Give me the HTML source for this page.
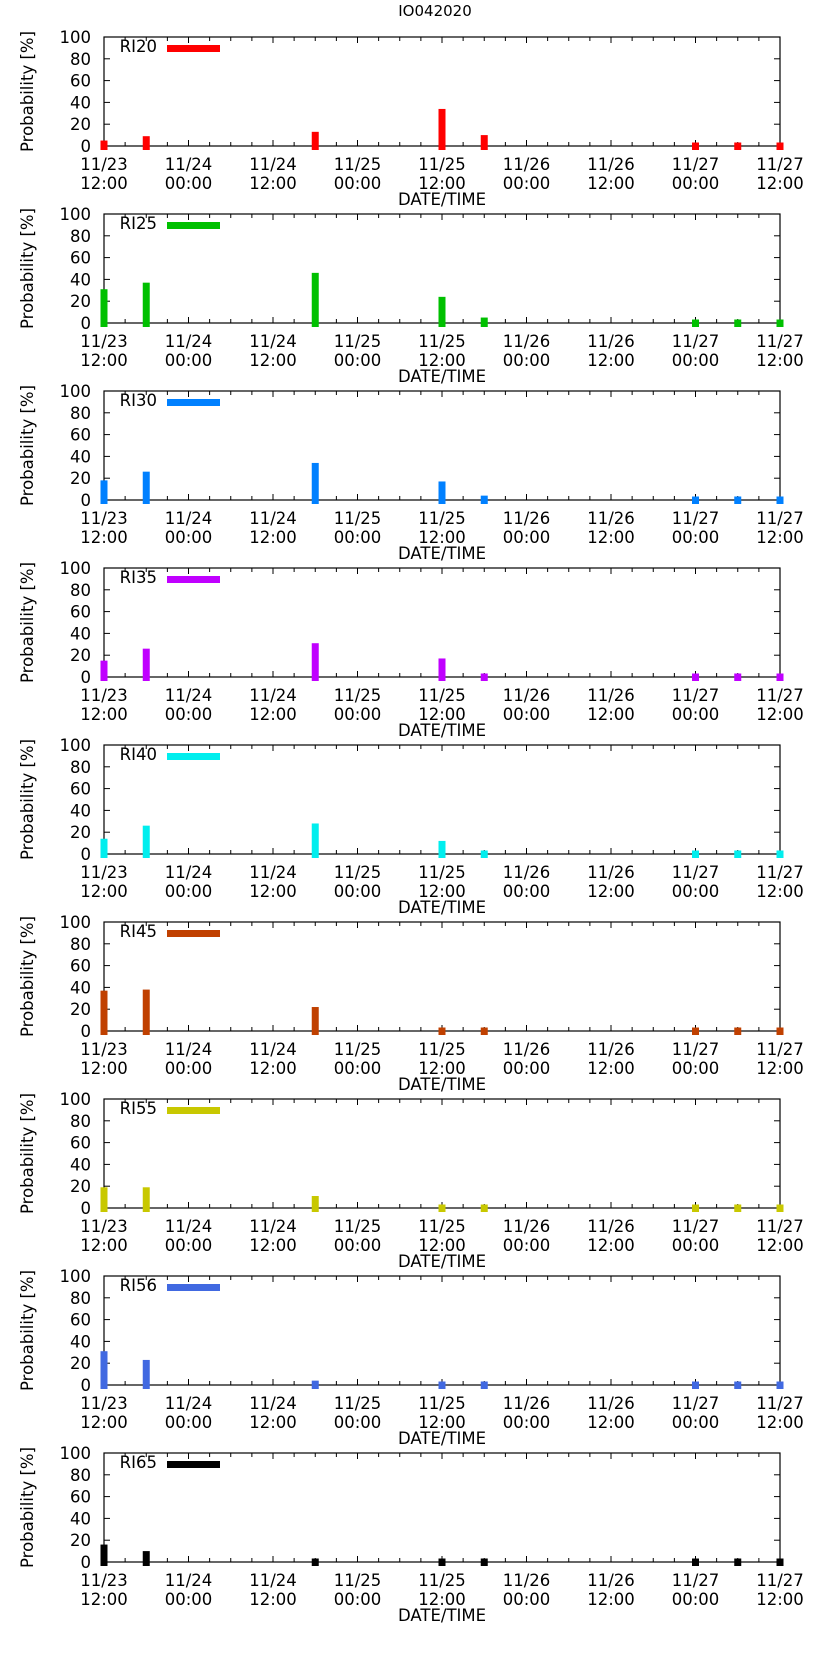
<!DOCTYPE html>
<html><head><meta charset="utf-8"><style>
body{margin:0;background:#fff;}
svg{display:block;font-family:"DejaVu Sans","Liberation Sans",sans-serif;}
</style></head><body>
<svg id="chart" width="823" height="1653" xmlns="http://www.w3.org/2000/svg">
<text x="435" y="16" font-size="15" text-anchor="middle">IO042020</text>
</svg>
<script>
const seriesNames = ["RI20","RI25","RI30","RI35","RI40","RI45","RI55","RI56","RI65"];
const seriesColors = ["#ff0000","#00c000","#0080ff","#c000ff","#00eeee","#c04000","#c8c800","#4169e1","#000000"];
const barHours = [0,6,30,48,54,84,90,96];
const ri20 = [5,9,13,34,10,0,0,0];
const ri25 = [31,37,46,24,5,0,0,0];
const ri30 = [18,26,34,17,4,0,0,0];
const ri35 = [15,26,31,17,1,0,0,0];
const ri40 = [14,26,28,12,3,0,0,0];
const ri45 = [37,38,22,0,0,0,0,0];
const ri55 = [19,19,11,0,0,0,0,0];
const ri56 = [31,23,4,0,0,0,0,0];
const ri65 = [16,10,0,0,0,0,0,0];
const seriesValues = [ri20,ri25,ri30,ri35,ri40,ri45,ri55,ri56,ri65];
const yTicks = [0,20,40,60,80,100];
const xTickHours = [0,12,24,36,48,60,72,84,96];
const xTickLabels = [["11/23","12:00"],["11/24","00:00"],["11/24","12:00"],["11/25","00:00"],["11/25","12:00"],["11/26","00:00"],["11/26","12:00"],["11/27","00:00"],["11/27","12:00"]];

const svg = document.getElementById('chart');
const NS = "http://www.w3.org/2000/svg";
const X0 = 104, X1 = 780, H = 109, TOP0 = 37, STEP = 177;
const FS = 16.5;
function xs(h){ return X0 + (X1-X0)*h/96; }
function mk(tag, attrs, parent){ const e=document.createElementNS(NS,tag); for(const k in attrs) e.setAttribute(k,attrs[k]); (parent||svg).appendChild(e); return e; }

seriesNames.forEach((name,i)=>{
  const top = TOP0 + i*STEP, bot = top + H;
  const ys = v => bot - H*v/100;
  const g = mk('g',{});
  
  
  const f = mk('rect',{x:X0, y:top, width:X1-X0, height:H, fill:'none', stroke:'#000', 'stroke-width':1.2}, g);
  
  
  yTicks.forEach(t=>{
    const y = ys(t);
    mk('line',{x1:X0, y1:y, x2:X0+6, y2:y, stroke:'#000'}, g);
    mk('line',{x1:X1, y1:y, x2:X1-6, y2:y, stroke:'#000'}, g);
    const tx = mk('text',{x:X0-13, y:y+6, 'font-size':FS, 'text-anchor':'end'}, g);
    tx.textContent = t;
    
    
  });
  for(let h=0; h<=96; h+=3){
    const x = xs(h), len = (h%12===0)?6:4;
    mk('line',{x1:x, y1:bot, x2:x, y2:bot-len, stroke:'#000'}, g);
    mk('line',{x1:x, y1:top, x2:x, y2:top+len, stroke:'#000'}, g);
  }
  seriesValues[i].forEach((v,j)=>{
    const x = xs(barHours[j]);
    const yt = Math.min(ys(v), bot-3.5);
    const r = mk('rect',{x:x-3.5, y:yt, width:7, height:(bot+4)-yt, fill:seriesColors[i]}, g);
    
    
  });
  xTickHours.forEach((h,k)=>{
    const x = xs(h);
    const t1 = mk('text',{x:x, y:bot+24, 'font-size':FS, 'text-anchor':'middle'}, g);
    t1.textContent = xTickLabels[k][0];
    
    
    const t2 = mk('text',{x:x, y:bot+43, 'font-size':FS, 'text-anchor':'middle'}, g);
    t2.textContent = xTickLabels[k][1];
    
    
  });
  const xl = mk('text',{x:442, y:bot+59, 'font-size':FS, 'text-anchor':'middle'}, g);
  xl.textContent = 'DATE/TIME';
  
  
  const cy = top + H/2;
  const yl = mk('text',{x:0, y:0, 'font-size':FS, 'text-anchor':'middle', transform:`translate(33,${cy}) rotate(-90)`}, g);
  yl.textContent = 'Probability [%]';
  
  
  const lt = mk('text',{x:157, y:top+15, 'font-size':FS, 'text-anchor':'end'}, g);
  lt.textContent = name;
  
  
  const ll = mk('rect',{x:167, y:top+8, width:53, height:7, fill:seriesColors[i]}, g);
  
  
});
</script>
</body></html>
